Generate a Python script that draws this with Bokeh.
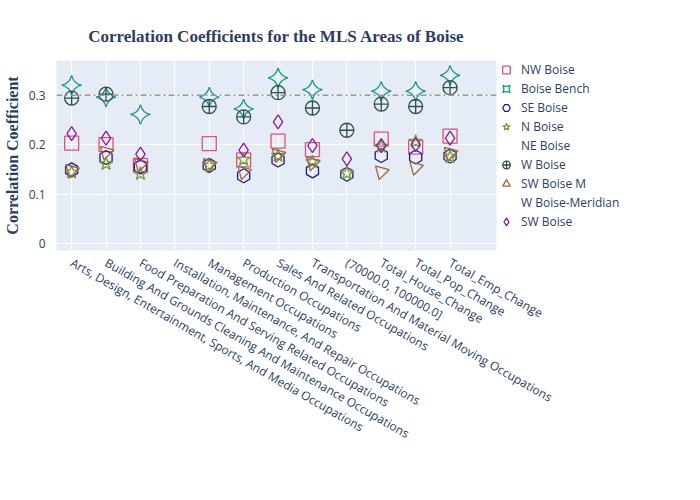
import numpy as np
from bokeh.plotting import figure
from bokeh.models import FixedTicker, Span, Legend, LegendItem, ColumnDataSource
from bokeh.embed import file_html
from bokeh.resources import INLINE

nan = float("nan")
categories = ["Arts, Design, Entertainment, Sports, And Media Occupations",
              "Building And Grounds Cleaning And Maintenance Occupations",
              "Food Preparation And Serving Related Occupations",
              "Installation, Maintenance, And Repair Occupations",
              "Management Occupations", "Production Occupations",
              "Sales And Related Occupations",
              "Transportation And Material Moving Occupations",
              "(70000.0, 100000.0]", "Total_House_Change", "Total_Pop_Change", "Total_Emp_Change"]

nw_boise = [0.203, 0.200, 0.158, nan, 0.202, 0.169, 0.207, 0.190, nan, 0.211, 0.195, 0.217]
boise_bench = [0.320, 0.296, 0.261, nan, 0.296, 0.272, 0.335, 0.311, nan, 0.308, 0.308, 0.340]
se_boise = [0.149, 0.174, 0.155, nan, 0.158, 0.137, 0.169, 0.147, 0.140, 0.178, 0.175, 0.177]
n_boise = [0.144, 0.161, 0.141, nan, 0.158, 0.170, 0.178, 0.165, 0.142, 0.196, 0.206, 0.175]
ne_boise = [nan, 0.033, 0.028, 0.024, 0.029, 0.029, 0.031, 0.026, nan, 0.029, 0.031, 0.036]
w_boise = [0.294, 0.302, nan, nan, 0.277, 0.256, 0.305, 0.274, 0.229, 0.282, 0.277, 0.315]
sw_boise_m = [0.148, 0.185, 0.160, nan, 0.160, 0.145, 0.180, 0.163, nan, 0.145, 0.154, 0.183]
w_boise_meridian = [0.172, 0.190, 0.170, nan, 0.180, 0.165, 0.190, 0.180, nan, 0.195, 0.190, 0.210]
sw_boise = [0.222, 0.213, 0.181, nan, nan, 0.189, 0.246, 0.198, 0.171, 0.198, 0.200, 0.213]

series = [
    ("NW Boise", nw_boise, "square", "#e0507a", 0),
    ("Boise Bench", boise_bench, "square_pin", "#17968a", np.pi / 4),
    ("SE Boise", se_boise, "hex", "#1a1a8c", np.pi / 2),
    ("N Boise", n_boise, "star", "#7a9a2e", 0),
    ("NE Boise", ne_boise, "hourglass", "#d03c9a", np.pi / 2),
    ("W Boise", w_boise, "circle_cross", "#2f4f4f", 0),
    ("SW Boise M", sw_boise_m, "triangle", "#a0663a", np.pi / 4),
    ("W Boise-Meridian", w_boise_meridian, "hourglass", "#f0a030", 0),
    ("SW Boise", sw_boise, "diamond", "#8b1a9c", 0),
]

p = figure(frame_width=440, frame_height=190, output_backend="svg", toolbar_location=None,
           x_range=(-0.44, 12.35), y_range=(-0.014, 0.37),
           min_border_left=50, min_border_top=60, min_border_bottom=0, min_border_right=0)
p.background_fill_color = "#e5ecf6"
p.outline_line_color = None
p.title.text = "Correlation Coefficients for the MLS Areas of Boise"
p.title.text_font = "Liberation Serif"
p.title.text_font_size = "17px"
p.title.text_color = "#2a3f5f"
p.title.align = "center"
p.title.standoff = 30

xs = list(range(len(categories)))
items = []
for name, vals, marker, color, ang in series:
    src = ColumnDataSource(dict(x=xs, y=vals))
    r = p.scatter("x", "y", source=src, marker=marker, size=14, angle=ang,
                  fill_color=color, fill_alpha=0, line_color=color, line_width=1.3)
    items.append(LegendItem(label=name, renderers=[r]))

p.add_layout(Span(location=0.3, dimension="width", line_color="#999999",
                  line_dash="6 3 2 3", line_width=1.5))

legend = Legend(items=items, location="top_left", border_line_color=None,
                background_fill_alpha=0, label_text_color="#2a3f5f",
                label_text_font="Open Sans", label_text_font_size="12px",
                spacing=0, glyph_height=19, label_height=19, margin=0, padding=6)
p.add_layout(legend, "right")

p.xaxis.ticker = FixedTicker(ticks=xs)
p.xaxis.major_label_overrides = {i: c for i, c in enumerate(categories)}
p.xaxis.major_label_orientation = -0.52
p.yaxis.ticker = FixedTicker(ticks=[0, 0.1, 0.2, 0.3])
p.yaxis.major_label_overrides = {0: "0", 0.1: "0.1", 0.2: "0.2", 0.3: "0.3"}
for ax in (p.xaxis, p.yaxis):
    ax.axis_line_color = None
    ax.major_tick_line_color = None
    ax.minor_tick_line_color = None
    ax.major_label_text_color = "#2a3f5f"
    ax.major_label_text_font = "Open Sans"
    ax.major_label_text_font_size = "12px"
p.yaxis.axis_label = "Correlation Coefficient"
p.yaxis.axis_label_text_font = "Liberation Serif"
p.yaxis.axis_label_text_font_style = "bold"
p.yaxis.axis_label_text_font_size = "16px"
p.yaxis.axis_label_text_color = "#2a3f5f"
p.xgrid.grid_line_color = "white"
p.ygrid.grid_line_color = "white"

open("out.html", "w").write(file_html(p, INLINE))
